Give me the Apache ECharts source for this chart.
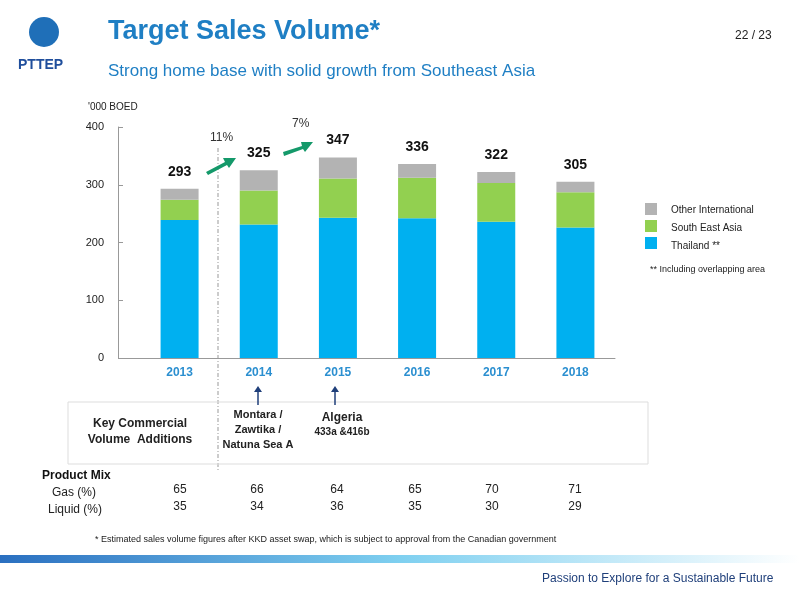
<!DOCTYPE html>
<html><head><meta charset="utf-8">
<script src="https://cdn.jsdelivr.net/npm/echarts@6/dist/echarts.min.js"></script>
<style>html,body{margin:0;padding:0;background:#fff}#c{width:800px;height:600px}</style>
</head><body><div id="c"></div>
<script>
const years = ['2013','2014','2015','2016','2017','2018'];
const thailand = [239, 231, 243, 242, 236, 226];
const southEastAsia = [35, 59, 68, 70, 67, 61];
const otherIntl = [19, 35, 36, 24, 19, 18];
const totals = [293, 325, 347, 336, 322, 305];
const gasPct = [65, 66, 64, 65, 70, 71];
const liquidPct = [35, 34, 36, 35, 30, 29];
const yTicks = [0, 100, 200, 300, 400];

const chart = echarts.init(document.getElementById('c'));
const F = 'Liberation Sans, Arial, sans-serif';
const xs = [180, 257, 337, 415, 492, 575];
const graphics = [
  {type:'text', left:108, top:18, style:{text:'Target Sales Volume*', fill:'#1f7fc4', font:'bold 27px '+F}},
  {type:'text', left:108, top:63, style:{text:'Strong home base with solid growth from Southeast Asia', fill:'#1f7fc4', font:'17px '+F}},
  {type:'text', left:735, top:30, style:{text:'22 / 23', fill:'#222', font:'12px '+F}},
  {type:'circle', shape:{cx:44, cy:32, r:15}, style:{fill:'#1f6fb8'}},
  {type:'text', left:18, top:58, style:{text:'PTTEP', fill:'#1f4e9c', font:'bold 14px '+F}},
  {type:'text', left:88, top:102, style:{text:"'000 BOED", fill:'#222', font:'10px '+F}},
  {type:'line', shape:{x1:118,y1:358.5,x2:140,y2:358.5}, style:{stroke:'#999', lineWidth:1}},
  {type:'line', shape:{x1:218,y1:148,x2:218,y2:470}, style:{stroke:'#999', lineDash:[4,2,1,2], lineWidth:1}},
  {type:'text', left:210, top:132, style:{text:'11%', fill:'#333', font:'12px '+F}},
  {type:'text', left:292, top:118, style:{text:'7%', fill:'#333', font:'12px '+F}},
  {type:'polygon', shape:{points:[[206,172],[225,162],[223,158],[236,158],[229,168],[227,165],[208,175]]}, style:{fill:'#14996a'}},
  {type:'polygon', shape:{points:[[283,152],[302,146],[301,142],[313,142],[305,152],[303,149],[284,156]]}, style:{fill:'#14996a'}},
  {type:'rect', shape:{x:645,y:203,width:12,height:12}, style:{fill:'#b3b3b3'}},
  {type:'rect', shape:{x:645,y:220,width:12,height:12}, style:{fill:'#92d050'}},
  {type:'rect', shape:{x:645,y:237,width:12,height:12}, style:{fill:'#00b0f0'}},
  {type:'text', left:671, top:205, style:{text:'Other International', fill:'#222', font:'10px '+F}},
  {type:'text', left:671, top:223, style:{text:'South East Asia', fill:'#222', font:'10px '+F}},
  {type:'text', left:671, top:241, style:{text:'Thailand **', fill:'#222', font:'10px '+F}},
  {type:'text', left:650, top:265, style:{text:'** Including overlapping area', fill:'#222', font:'9px '+F}},
  {type:'rect', shape:{x:68,y:402,width:580,height:62}, style:{fill:'none', stroke:'#ddd'}},
  {type:'text', x:140, y:432, style:{text:'Key Commercial\nVolume  Additions', fill:'#222', font:'bold 12px '+F, align:'center', verticalAlign:'middle', lineHeight:16}},
  {type:'text', x:258, y:430, style:{text:'Montara /\nZawtika /\nNatuna Sea A', fill:'#222', font:'bold 11px '+F, align:'center', verticalAlign:'middle', lineHeight:15}},
  {type:'text', x:342, y:418, style:{text:'Algeria', fill:'#222', font:'bold 12px '+F, align:'center', verticalAlign:'middle'}},
  {type:'text', x:342, y:432, style:{text:'433a &416b', fill:'#222', font:'bold 10px '+F, align:'center', verticalAlign:'middle'}},
  {type:'line', shape:{x1:258,y1:405,x2:258,y2:390}, style:{stroke:'#1f3f7a', lineWidth:1.5}},
  {type:'polygon', shape:{points:[[254,392],[262,392],[258,386]]}, style:{fill:'#1f3f7a'}},
  {type:'line', shape:{x1:335,y1:405,x2:335,y2:390}, style:{stroke:'#1f3f7a', lineWidth:1.5}},
  {type:'polygon', shape:{points:[[331,392],[339,392],[335,386]]}, style:{fill:'#1f3f7a'}},
  {type:'text', left:42, top:470, style:{text:'Product Mix', fill:'#111', font:'bold 12px '+F}},
  {type:'text', left:52, top:487, style:{text:'Gas (%)', fill:'#222', font:'12px '+F}},
  {type:'text', left:48, top:504, style:{text:'Liquid (%)', fill:'#222', font:'12px '+F}},
  {type:'text', left:95, top:535, style:{text:'* Estimated sales volume figures after KKD asset swap, which is subject to approval from the Canadian government', fill:'#222', font:'9px '+F}},
  {type:'rect', shape:{x:0,y:555,width:800,height:8}, style:{fill:new echarts.graphic.LinearGradient(0,0,1,0,[{offset:0,color:'#2a6fc0'},{offset:0.5,color:'#7fd0f0'},{offset:1,color:'#ffffff'}])}},
  {type:'text', left:542, top:573, style:{text:'Passion to Explore for a Sustainable Future', fill:'#1f3f7a', font:'12px '+F}}
];
years.forEach((y,i)=>{
  graphics.push({type:'text', x:xs[i], y:490, style:{text:String(gasPct[i]), fill:'#222', font:'12px '+F, align:'center', verticalAlign:'middle'}});
  graphics.push({type:'text', x:xs[i], y:507, style:{text:String(liquidPct[i]), fill:'#222', font:'12px '+F, align:'center', verticalAlign:'middle'}});
});

chart.setOption({
  animation:false,
  grid:{left:140, right:185, top:127, bottom:242},
  xAxis:{type:'category', data:years, axisTick:{show:false}, axisLine:{lineStyle:{color:'#999'}},
    axisLabel:{color:'#2b8fd0', fontWeight:'bold', fontSize:12, fontFamily:F, margin:9}},
  yAxis:{type:'value', min:yTicks[0], max:yTicks[yTicks.length-1], interval:100, splitLine:{show:false}, offset:22,
    axisLine:{show:true, lineStyle:{color:'#999'}}, axisTick:{show:true, inside:true, lineStyle:{color:'#999'}},
    axisLabel:{color:'#222', fontSize:11, fontFamily:F, margin:14}},
  series:[
    {name:'Thailand **', type:'bar', stack:'s', data:thailand, barWidth:38, itemStyle:{color:'#00b0f0'}},
    {name:'South East Asia', type:'bar', stack:'s', data:southEastAsia, itemStyle:{color:'#92d050'}},
    {name:'Other International', type:'bar', stack:'s', data:otherIntl, itemStyle:{color:'#b3b3b3'},
      label:{show:true, position:'top', distance:10, color:'#111', fontWeight:'bold', fontSize:14, fontFamily:F,
        formatter:p=>totals[p.dataIndex]}}
  ],
  graphic:graphics
});
</script></body></html>
